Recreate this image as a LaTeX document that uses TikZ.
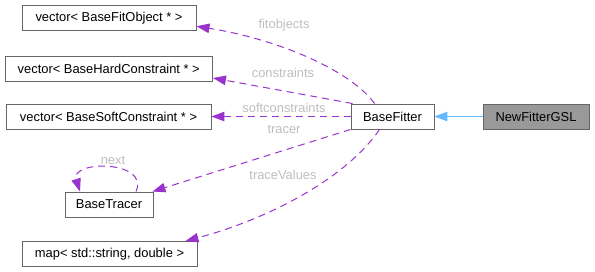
\documentclass[tikz,border=0pt]{standalone}
\usepackage{fontspec}
\setmainfont{Liberation Sans}
\usetikzlibrary{arrows.meta,calc}
\definecolor{edgepurple}{HTML}{9A32CD}
\definecolor{boxborder}{HTML}{666666}
\definecolor{lblgray}{HTML}{BEBEBE}
\definecolor{inhblue}{HTML}{63B8FF}
\definecolor{curfill}{HTML}{999999}
\tikzset{
  cls/.style={draw=boxborder, line width=0.9pt, fill=white, inner sep=0pt, minimum height=25pt,
    font=\fontsize{12.9}{15}\selectfont, text=black},
  cur/.style={cls, fill=curfill},
  member/.style={draw=edgepurple, line width=1pt, dash pattern=on 7pt off 5pt,
    -{Triangle[length=13pt,width=9.5pt]}},
  inherit/.style={draw=inhblue, line width=1pt, -{Triangle[length=13pt,width=9.5pt]}},
  lbl/.style={text=lblgray, font=\fontsize{12.9}{15}\selectfont, inner sep=0pt}
}
\begin{document}
\begin{tikzpicture}[x=1pt,y=-1pt]
\useasboundingbox (0,0) rectangle (595,272);
\node[cls, minimum width=174pt] (fo) at (109,17.75) {vector< BaseFitObject * >};
\node[cls, minimum width=207.5pt] (hc) at (108.75,68.5) {vector< BaseHardConstraint * >};
\node[cls, minimum width=205pt] (sc) at (108.5,116.5) {vector< BaseSoftConstraint * >};
\node[cls, minimum width=88pt] (bt) at (109,204.5) {BaseTracer};
\node[cls, minimum width=175pt] (mp) at (109.5,254) {map< std::string, double >};
\node[cls, minimum width=83pt] (bf) at (392.5,116.5) {BaseFitter};
\node[cur, minimum width=106pt] (ng) at (536,116.5) {NewFitterGSL};

\draw[inherit] (ng.west) -- (bf.east);

\draw[member] ($(bf.north west)+(24,0)$) .. controls (352,72) and (282,40) .. ($(fo.east)+(0,8.5)$);
\node[lbl] (lfo) at (284,25) {fitobjects};

\draw[member] ($(bf.north west)+(2,0)$) -- ($(hc.east)+(0,9.5)$);
\node[lbl] (lhc) at (283,73) {constraints};

\draw[member] (bf.west) -- (sc.east);
\node[lbl] (lsc) at (284,108) {softconstraints};

\draw[member] (bf.south west) -- ($(bt.north east)+(-1,0)$);
\node[lbl] (ltr) at (284,129) {tracer};

\draw[member] ($(bt.north)+(27,0)$) .. controls (150,160) and (70,160) .. ($(bt.north)+(-29,0)$);
\node[lbl] (lnx) at (113,160) {next};

\draw[member] ($(bf.south west)+(29,0)$) .. controls (345,180) and (265,220) .. ($(mp.north east)+(-12,0)$);
\node[lbl] (ltv) at (283,175) {traceValues};
\end{tikzpicture}
\end{document}
